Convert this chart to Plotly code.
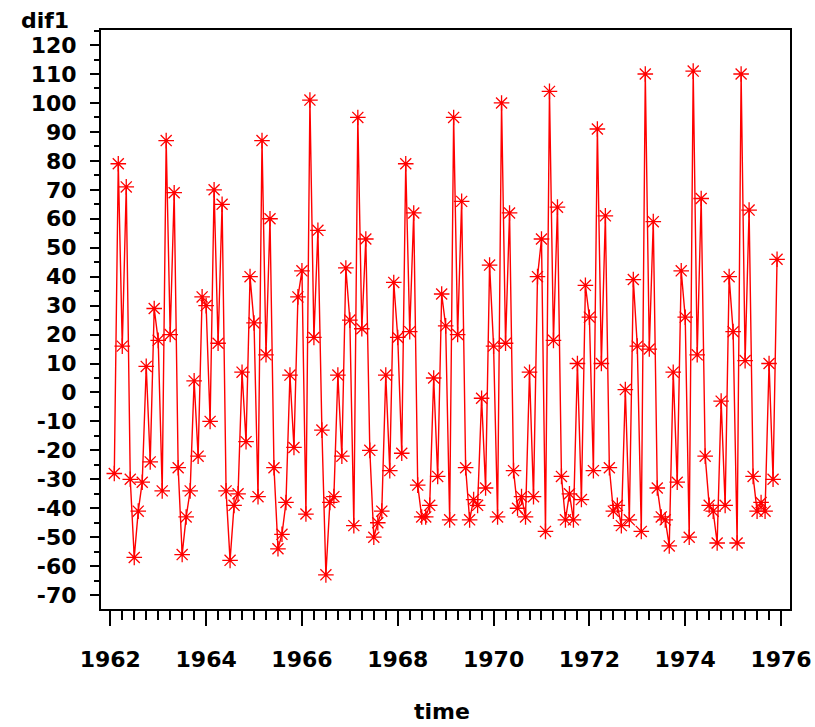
import plotly.graph_objects as go

# First differences (dif1) of monthly series, Feb 1962 .. Dec 1975
start_year = 1962
start_month = 2  # February
dif1 = [
    -28, 79, 16, 71, -30, -57, -41, -31, 9, -24, 29,            # 1962 (Feb-Dec)
    18, -34, 87, 20, 69, -26, -56, -43, -34, 4, -22, 33,         # 1963
    30, -10, 70, 17, 65, -34, -58, -39, -35, 7, -17, 40,         # 1964
    24, -36, 87, 13, 60, -26, -54, -49, -38, 6, -19, 33,         # 1965
    42, -42, 101, 19, 56, -13, -63, -38, -36, 6, -22, 43,        # 1966
    25, -46, 95, 22, 53, -20, -50, -45, -41, 6, -27, 38,         # 1967
    19, -21, 79, 21, 62, -32, -43, -43, -39, 5, -29, 34,         # 1968
    23, -44, 95, 20, 66, -26, -44, -37, -39, -2, -33, 44,        # 1969
    16, -43, 100, 17, 62, -27, -40, -36, -43, 7, -36, 40,        # 1970
    53, -48, 104, 18, 64, -29, -44, -35, -44, 10, -37, 37,       # 1971
    26, -27, 91, 10, 61, -26, -41, -39, -46, 1, -44, 39,         # 1972
    16, -48, 110, 15, 59, -33, -43, -44, -53, 7, -31, 42,        # 1973
    26, -50, 111, 13, 67, -22, -39, -41, -52, -3, -39, 40,       # 1974
    21, -52, 110, 11, 63, -29, -41, -38, -41, 10, -30, 46,       # 1975
]
time = [start_year + (start_month - 1 + i) / 12 for i in range(len(dif1))]

x_ticks = [1962, 1964, 1966, 1968, 1970, 1972, 1974, 1976]
y_ticks = list(range(-70, 121, 10))

RED = "rgb(255,0,0)"
FONT = "DejaVu Sans, Verdana, Arial, sans-serif"

# body margin is removed (post_script) so the figure fills the window;
# plot area at x 101..790, y 30..609
W, H = 815, 727
ML, MT = 101, 30
MR = W - 790
MB = H - 609

fig = go.Figure()
fig.add_trace(go.Scatter(
    x=time, y=dif1, mode="lines+markers",
    line=dict(color=RED, width=1.4),
    marker=dict(symbol="asterisk-open", size=13, color=RED,
                line=dict(color=RED, width=1.3)),
    showlegend=False, cliponaxis=False,
))

fig.update_layout(
    width=W, height=H,
    margin=dict(l=ML, r=MR, t=MT, b=MB, autoexpand=False),
    paper_bgcolor="white", plot_bgcolor="white",
    xaxis=dict(
        range=[1961.806, 1976.187], automargin=False,
        tickvals=x_ticks, ticktext=[str(v) for v in x_ticks],
        ticks="outside", ticklen=15, tickwidth=2, tickcolor="black",
        minor=dict(dtick=0.25, tick0=1962, ticks="outside", ticklen=9,
                   tickwidth=2, tickcolor="black", showgrid=False),
        showgrid=False, zeroline=False,
        showline=True, linecolor="black", linewidth=2, mirror=True,
        tickfont=dict(family=FONT, size=22, color="black", weight="bold"),
        ticklabelstandoff=15, ticklabeloverflow="allow",
    ),
    yaxis=dict(
        range=[-74.8, 125.2], automargin=False,
        tickvals=y_ticks, ticktext=[str(v) for v in y_ticks],
        ticks="outside", ticklen=9, tickwidth=2, tickcolor="black",
        minor=dict(dtick=5, tick0=0, ticks="outside", ticklen=5,
                   tickwidth=2, tickcolor="black", showgrid=False),
        showgrid=False, zeroline=False,
        showline=True, linecolor="black", linewidth=2, mirror=True,
        tickfont=dict(family=FONT, size=22, color="black", weight="bold"),
        ticklabelstandoff=9, ticklabeloverflow="allow",
    ),
)

# annotation positions given in window pixels, converted to paper coordinates
pw = W - ML - MR
ph = H - MT - MB
labels = [("dif1", 45, 21), ("time", 442, 711)]
for text, px, py in labels:
    fig.add_annotation(
        text=text, x=(px - ML) / pw, y=1 - (py - MT) / ph,
        xref="paper", yref="paper", showarrow=False,
        xanchor="center", yanchor="middle",
        font=dict(family=FONT, size=22, color="black", weight="bold"),
    )

fig.write_html(
    "out.html",
    config={"displayModeBar": False},
    post_script="document.body.style.margin='0';document.body.style.overflow='hidden';",
)
